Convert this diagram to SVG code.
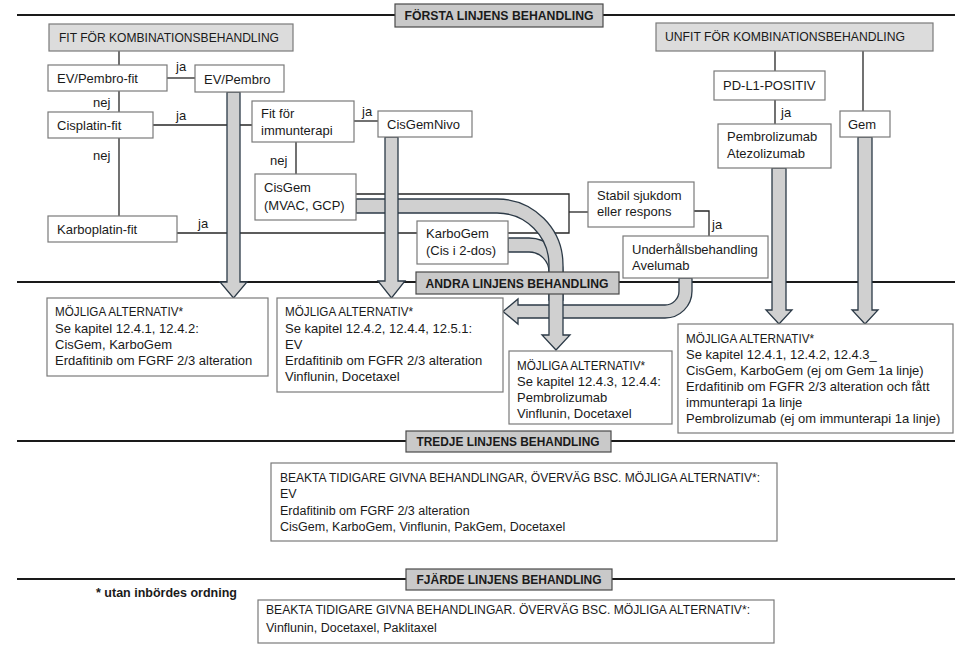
<svg xmlns="http://www.w3.org/2000/svg" width="969" height="649" viewBox="0 0 969 649">
<style>
text{font-family:"Liberation Sans",Arial,sans-serif;font-size:13px;fill:#1a1a1a}
.b{font-weight:bold;font-size:12.5px}
.box{fill:#fff;stroke:#7a7a7a;stroke-width:1.2}
.hdr{fill:#dcdcdc;stroke:#7a7a7a;stroke-width:1.2}
.sec{fill:#c9c9c9;stroke:#4a4a4a;stroke-width:1.2}
.sline{stroke:#1a1a1a;stroke-width:2;fill:none}
.c{stroke:#262626;stroke-width:1.3;fill:none}
.arr{fill:#d0d0d0;stroke:#2c3a47;stroke-width:1.3;stroke-linejoin:miter}
.s{font-size:12.5px}
</style>
<rect width="969" height="649" fill="#fff"/>
<g id="section-lines">
<line class="sline" x1="17" y1="15" x2="955" y2="15"/>
<line class="sline" x1="17" y1="282" x2="955" y2="282"/>
<line class="sline" x1="17" y1="441" x2="955" y2="441"/>
<line class="sline" x1="17" y1="579" x2="955" y2="579"/>
</g>
<g id="connectors">
<line class="c" x1="119" y1="51" x2="119" y2="216"/>
<line class="c" x1="167" y1="78" x2="195" y2="78"/>
<line class="c" x1="153" y1="125" x2="252" y2="125"/>
<line class="c" x1="354" y1="121" x2="378" y2="121"/>
<line class="c" x1="296" y1="142" x2="296" y2="174"/>
<line class="c" x1="177" y1="233" x2="417" y2="233"/>
<polyline class="c" points="356,194 569,194 569,233 508,233"/>
<line class="c" x1="569" y1="212" x2="588" y2="212"/>
<polyline class="c" points="694,211 709,211 709,236"/>
<line class="c" x1="775" y1="51" x2="775" y2="71"/>
<line class="c" x1="863" y1="51" x2="863" y2="111"/>
<line class="c" x1="775" y1="100" x2="775" y2="124"/>
<text x="176" y="71">ja</text>
<text x="176" y="120">ja</text>
<text x="198" y="228">ja</text>
<text x="93" y="107">nej</text>
<text x="93" y="160">nej</text>
<text x="362" y="116">ja</text>
<text x="270" y="165">nej</text>
<text x="712" y="229">ja</text>
<text x="781" y="117">ja</text>
</g>
<g id="arrows">
<path class="arr" d="M692,278 V291 A27,27 0 0 1 665,318 H518 V324 L503,311.5 L518,299 V305 H665 A14,14 0 0 0 679,291 V278 Z"/>
<path class="arr" d="M508,238 H529 A34,34 0 0 1 563,272 V300 H549 V272 A20,20 0 0 0 529,252 H508 Z"/>
<path class="arr" d="M356,199 H497 A66,66 0 0 1 563,265 V335 H570 L556,350 L542,335 H549 V265 A52,52 0 0 0 497,213 H356 Z"/>
<path class="arr" d="M227,92 H240 V282 H247 L233.5,298 L220,282 H227 Z"/>
<path class="arr" d="M385,137 H398 V281 H405 L391.5,298 L378,281 H385 Z"/>
<path class="arr" d="M772,168 H786 V310 H792 L779,324 L766,310 H772 Z"/>
<path class="arr" d="M858,137 H872 V310 H878 L865,324 L852,310 H858 Z"/>
</g>
<g id="sec1"><rect class="sec" x="395" y="4" width="208" height="23"/><text class="b" x="499" y="20" text-anchor="middle" textLength="189" lengthAdjust="spacingAndGlyphs">FÖRSTA LINJENS BEHANDLING</text></g>
<g id="sec2"><rect class="sec" x="416" y="272" width="203" height="22"/><text class="b" x="517" y="288" text-anchor="middle" textLength="183" lengthAdjust="spacingAndGlyphs">ANDRA LINJENS BEHANDLING</text></g>
<g id="sec3"><rect class="sec" x="406" y="431" width="205" height="21"/><text class="b" x="508" y="446" text-anchor="middle" textLength="183" lengthAdjust="spacingAndGlyphs">TREDJE LINJENS BEHANDLING</text></g>
<g id="sec4"><rect class="sec" x="406" y="569" width="206" height="21"/><text class="b" x="509" y="584" text-anchor="middle" textLength="185" lengthAdjust="spacingAndGlyphs">FJÄRDE LINJENS BEHANDLING</text></g>
<g id="fit"><rect class="hdr" x="49" y="24" width="244" height="27"/><text x="59" y="42" textLength="220" lengthAdjust="spacingAndGlyphs">FIT FÖR KOMBINATIONSBEHANDLING</text></g>
<g id="evpembro-fit"><rect class="box" x="48" y="65" width="119" height="26"/><text x="57" y="83">EV/Pembro-fit</text></g>
<g id="evpembro"><rect class="box" x="195" y="65" width="89" height="27"/><text x="204" y="84">EV/Pembro</text></g>
<g id="cisplatin-fit"><rect class="box" x="48" y="112" width="105" height="26"/><text x="57" y="130">Cisplatin-fit</text></g>
<g id="karboplatin-fit"><rect class="box" x="48" y="216" width="129" height="26"/><text x="57" y="234">Karboplatin-fit</text></g>
<g id="fit-immun"><rect class="box" x="252" y="101" width="102" height="41"/><text x="261" y="118">Fit för</text><text x="261" y="135">immunterapi</text></g>
<g id="cisgemnivo"><rect class="box" x="378" y="111" width="94" height="26"/><text x="387" y="129">CisGemNivo</text></g>
<g id="cisgem"><rect class="box" x="255" y="174" width="101" height="46"/><text x="264" y="192">CisGem</text><text x="264" y="210">(MVAC, GCP)</text></g>
<g id="karbogem"><rect class="box" x="417" y="221" width="91" height="43"/><text x="426" y="238">KarboGem</text><text x="426" y="255">(Cis i 2-dos)</text></g>
<g id="stabil"><rect class="box" x="588" y="182" width="106" height="45"/><text x="597" y="200">Stabil sjukdom</text><text x="597" y="216">eller respons</text></g>
<g id="underhall"><rect class="box" x="623" y="236" width="145" height="42"/><text x="632" y="254">Underhållsbehandling</text><text x="632" y="270">Avelumab</text></g>
<g id="unfit"><rect class="hdr" x="656" y="23" width="277" height="28"/><text x="665" y="41" textLength="240" lengthAdjust="spacingAndGlyphs">UNFIT FÖR KOMBINATIONSBEHANDLING</text></g>
<g id="pdl1"><rect class="box" x="714" y="71" width="111" height="29"/><text x="723" y="90">PD-L1-POSITIV</text></g>
<g id="pembro-atezo"><rect class="box" x="718" y="124" width="113" height="44"/><text x="727" y="141">Pembrolizumab</text><text x="727" y="158">Atezolizumab</text></g>
<g id="gem"><rect class="box" x="840" y="111" width="50" height="26"/><text x="848" y="129">Gem</text></g>
<g id="alt-a"><rect class="box" x="47" y="298" width="221" height="78"/>
<text x="55" y="316" textLength="128" lengthAdjust="spacingAndGlyphs">MÖJLIGA ALTERNATIV*</text>
<text x="55" y="333">Se kapitel 12.4.1, 12.4.2:</text>
<text x="55" y="349">CisGem, KarboGem</text>
<text x="55" y="365">Erdafitinib om FGRF 2/3 alteration</text></g>
<g id="alt-b"><rect class="box" x="277" y="298" width="226" height="94"/>
<text x="285" y="316" textLength="128" lengthAdjust="spacingAndGlyphs">MÖJLIGA ALTERNATIV*</text>
<text x="285" y="333">Se kapitel 12.4.2, 12.4.4, 12.5.1:</text>
<text x="285" y="349">EV</text>
<text x="285" y="365">Erdafitinib om FGFR 2/3 alteration</text>
<text x="285" y="381">Vinflunin, Docetaxel</text></g>
<g id="alt-c"><rect class="box" x="509" y="351" width="163" height="73"/>
<text x="517" y="370" textLength="128" lengthAdjust="spacingAndGlyphs">MÖJLIGA ALTERNATIV*</text>
<text x="517" y="386">Se kapitel 12.4.3, 12.4.4:</text>
<text x="517" y="402">Pembrolizumab</text>
<text x="517" y="418">Vinflunin, Docetaxel</text></g>
<g id="alt-d"><rect class="box" x="678" y="324" width="275" height="109"/>
<text x="686" y="343" textLength="128" lengthAdjust="spacingAndGlyphs">MÖJLIGA ALTERNATIV*</text>
<text x="686" y="359">Se kapitel 12.4.1, 12.4.2, 12.4.3_</text>
<text x="686" y="375">CisGem, KarboGem (ej om Gem 1a linje)</text>
<text x="686" y="391">Erdafitinib om FGFR 2/3 alteration och fått</text>
<text x="686" y="407">immunterapi 1a linje</text>
<text x="686" y="423">Pembrolizumab (ej om immunterapi 1a linje)</text></g>
<g id="third"><rect class="box" x="271" y="463" width="506" height="78"/>
<text class="s" x="280" y="482" textLength="480" lengthAdjust="spacingAndGlyphs">BEAKTA TIDIGARE GIVNA BEHANDLINGAR, ÖVERVÄG BSC. MÖJLIGA ALTERNATIV*:</text>
<text class="s" x="280" y="498">EV</text>
<text class="s" x="280" y="515">Erdafitinib om FGRF 2/3 alteration</text>
<text class="s" x="280" y="531">CisGem, KarboGem, Vinflunin, PakGem, Docetaxel</text></g>
<g id="fourth"><rect class="box" x="258" y="600" width="516" height="43"/>
<text class="s" x="266" y="614" textLength="484" lengthAdjust="spacingAndGlyphs">BEAKTA TIDIGARE GIVNA BEHANDLINGAR. ÖVERVÄG BSC. MÖJLIGA ALTERNATIV*:</text>
<text class="s" x="266" y="632">Vinflunin, Docetaxel, Paklitaxel</text></g>
<g id="footnote"><text class="b" x="96" y="597">* utan inbördes ordning</text></g>
</svg>
